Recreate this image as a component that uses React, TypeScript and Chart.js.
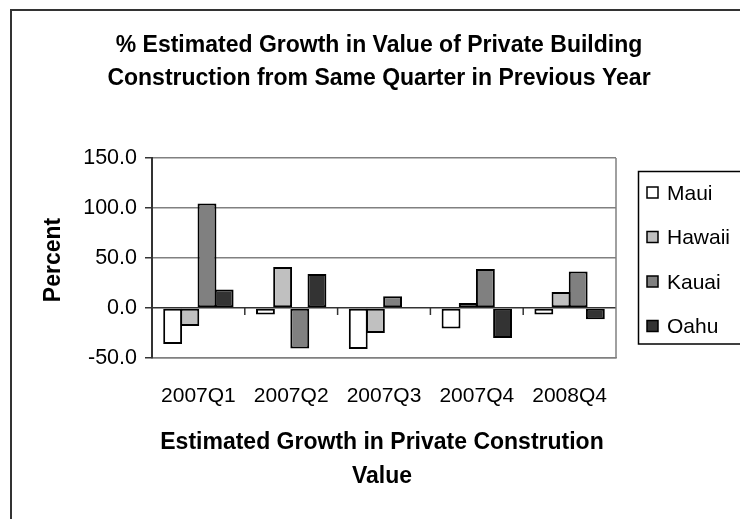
import React, { useEffect, useRef } from "react";
import { Chart, registerables } from "chart.js";

Chart.register(...registerables);

const categories = ["2007Q1", "2007Q2", "2007Q3", "2007Q4", "2008Q4"];
const seriesNames = ["Maui", "Hawaii", "Kauai", "Oahu"];
const maui = [-36, -6.6, -41, -20.6, -6.6];
const hawaii = [-18, 41, -25, 5, 16];
const kauai = [104.4, -40.6, 11.7, 39, 36.4];
const oahu = [18.4, 34, null, -30, -11.3];
const seriesColors = ["#FFFFFF", "#C0C0C0", "#808080", "#333333"];
const yTicks = [-50, 0, 50, 100, 150];
const titleLines = [
  "% Estimated Growth in Value of Private Building",
  "Construction from Same Quarter in Previous Year",
];
const xTitleLines = ["Estimated Growth in Private Constrution", "Value"];
const yTitle = "Percent";

const FONT = "'Liberation Sans', Arial, sans-serif";

const decorPlugin = {
  id: "decor",
  afterDraw(chart: any) {
    const ctx = chart.ctx;
    const area = chart.chartArea;
    const xs = chart.scales.x;
    const ys = chart.scales.y;
    ctx.save();
    // outer chart border
    ctx.strokeStyle = "#333";
    ctx.lineWidth = 2;
    ctx.strokeRect(11, 10, 760, 540);

    // plot right border
    ctx.strokeStyle = "#808080";
    ctx.lineWidth = 1.5;
    ctx.beginPath();
    ctx.moveTo(area.right, area.top);
    ctx.lineTo(area.right, area.bottom);
    ctx.stroke();

    // category tick marks on zero line
    const y0 = ys.getPixelForValue(0);
    ctx.strokeStyle = "#333";
    ctx.lineWidth = 1.5;
    for (let i = 0; i < categories.length - 1; i++) {
      const bx = (xs.getPixelForValue(i) + xs.getPixelForValue(i + 1)) / 2;
      ctx.beginPath();
      ctx.moveTo(bx, y0);
      ctx.lineTo(bx, y0 + 7);
      ctx.stroke();
    }

    // title
    ctx.fillStyle = "#000";
    ctx.textAlign = "center";
    ctx.textBaseline = "middle";
    ctx.font = `bold 23px ${FONT}`;
    titleLines.forEach((t, i) => ctx.fillText(t, 379, 46 + i * 33));

    // x axis title
    xTitleLines.forEach((t, i) => ctx.fillText(t, 382, 443 + i * 34));

    // y axis title
    ctx.save();
    ctx.translate(54, (area.top + area.bottom) / 2 + 2);
    ctx.rotate(-Math.PI / 2);
    ctx.font = `bold 23px ${FONT}`;
    ctx.fillText(yTitle, 0, 0);
    ctx.restore();

    // legend
    ctx.strokeStyle = "#000";
    ctx.lineWidth = 1.5;
    ctx.strokeRect(638.5, 171.5, 130, 172.5);
    ctx.font = `21px ${FONT}`;
    ctx.textAlign = "left";
    chart.data.datasets.forEach((ds: any, i: number) => {
      const cy = 193 + i * 44.5;
      ctx.fillStyle = ds.backgroundColor;
      ctx.fillRect(647, cy - 6, 11, 11);
      ctx.strokeStyle = "#000";
      ctx.lineWidth = 1.5;
      ctx.strokeRect(647, cy - 6, 11, 11);
      ctx.fillStyle = "#000";
      ctx.fillText(ds.label, 667, cy + 1);
    });
    ctx.restore();
  },
};

export default function App() {
  const ref = useRef<HTMLCanvasElement | null>(null);
  useEffect(() => {
    if (!ref.current) return;
    Chart.defaults.font.family = FONT;
    const values = [maui, hawaii, kauai, oahu];
    const chart = new Chart(ref.current, {
      type: "bar",
      data: {
        labels: categories,
        datasets: seriesNames.map((name, i) => ({
          label: name,
          data: values[i] as any,
          backgroundColor: seriesColors[i],
          borderColor: "#000",
          borderWidth: 2,
          borderSkipped: false,
          inflateAmount: 0,
          categoryPercentage: 0.74,
          barPercentage: 1.1,
        })),
      },
      options: {
        animation: false,
        responsive: false,
        devicePixelRatio: 1,
        layout: { padding: { left: 0, top: 158, right: 124, bottom: 0 } },
        plugins: {
          legend: { display: false },
          title: { display: false },
          tooltip: { enabled: false },
        },
        scales: {
          x: {
            grid: { display: false, drawTicks: false },
            border: { display: true, color: "#808080", width: 1.5 },
            ticks: {
              color: "#000",
              font: { size: 21, family: FONT },
              padding: 26,
              maxRotation: 0,
              autoSkip: false,
            },
            afterFit: (s: any) => {
              s.height = 161;
            },
          },
          y: {
            min: -50,
            max: 150,
            afterBuildTicks: (s: any) => {
              s.ticks = yTicks.map((v) => ({ value: v }));
            },
            grid: {
              color: (c: any) => (c.tick && c.tick.value === 0 ? "#333" : "#808080"),
              lineWidth: 1.5,
              tickLength: 7,
              tickColor: "#333",
            },
            border: { display: true, color: "#333", width: 2 },
            ticks: {
              color: "#000",
              font: { size: 21.5, family: FONT },
              padding: 8,
              callback: (v: any) => Number(v).toFixed(1),
            },
            afterFit: (s: any) => {
              s.width = 152;
            },
          },
        },
      },
      plugins: [decorPlugin],
    });
    return () => chart.destroy();
  }, []);
  return (
    <div style={{ position: "absolute", left: 0, top: 0, width: 740, height: 519, background: "#fff" }}>
      <canvas ref={ref} width={740} height={519} />
    </div>
  );
}
